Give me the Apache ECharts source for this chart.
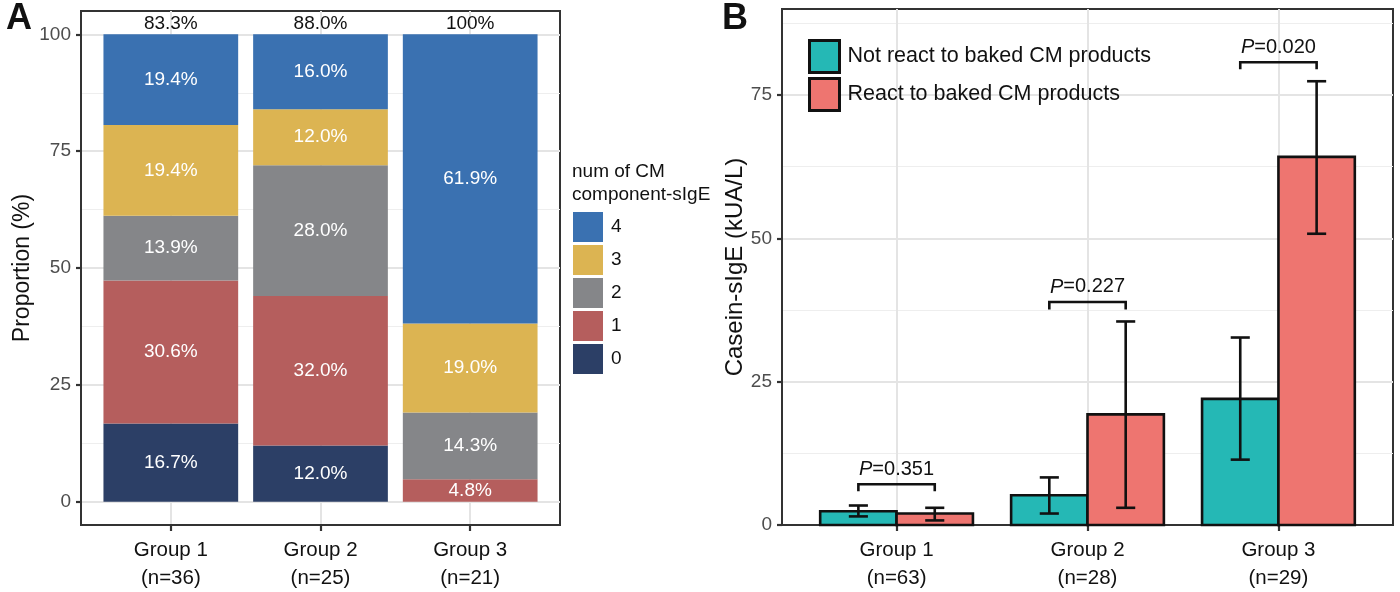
<!DOCTYPE html>
<html><head><meta charset="utf-8">
<script src="https://cdn.jsdelivr.net/npm/echarts@6/dist/echarts.min.js"></script>
<style>html,body{margin:0;padding:0;background:#fff}#c{width:1400px;height:592px}</style>
</head><body><div id="c"></div><script>
const FONT = '"Liberation Sans", Arial, Helvetica, sans-serif';

// ---------- Panel A data ----------
const groupsA = ['Group 1\n(n=36)', 'Group 2\n(n=25)', 'Group 3\n(n=21)'];
const levelsA = ['0', '1', '2', '3', '4'];
const pct0 = [16.7, 12.0, 0];
const pct1 = [30.6, 32.0, 4.8];
const pct2 = [13.9, 28.0, 14.3];
const pct3 = [19.4, 12.0, 19.0];
const pct4 = [19.4, 16.0, 61.9];
const topLabelsA = ['83.3%', '88.0%', '100%'];
const yTicksA = [0, 25, 50, 75, 100];
const yMinorA = [12.5, 37.5, 62.5, 87.5];
const colorsA = ['#2C3F66', '#B55E5D', '#858689', '#DCB452', '#3A71B1'];

// ---------- Panel B data ----------
const groupsB = ['Group 1\n(n=63)', 'Group 2\n(n=28)', 'Group 3\n(n=29)'];
const namesB = ['Not react to baked CM products', 'React to baked CM products'];
const notReactMean = [2.4, 5.2, 22.0];
const notReactLow = [1.5, 2.0, 11.4];
const notReactHigh = [3.4, 8.3, 32.7];
const reactMean = [2.0, 19.3, 64.2];
const reactLow = [0.8, 3.0, 50.8];
const reactHigh = [3.0, 35.5, 77.4];
const pValues = ['0.351', '0.227', '0.020'];
const bracketTop = [7.1, 38.9, 80.7];
const bracketLeg = [5.9, 37.6, 79.5];
const yTicksB = [0, 25, 50, 75];
const yMinorB = [12.5, 37.5, 62.5, 87.5];
const colorsB = ['#25B8B5', '#EE7570'];

const catPos = [1, 2, 3];
const GRIDC = '#e4e4e4', MINORC = '#eeeeee', BORDER = '#333333', INK = '#111111', TICKC = '#4d4d4d';

// ---------- Panel A series ----------
const pctA = [pct0, pct1, pct2, pct3, pct4];
function renderStackBar(params, api) {
  const x = api.value(0), y0 = api.value(1), y1 = api.value(2), v = api.value(3);
  if (!(v > 0)) return null;
  const tl = api.coord([x - 0.45, y1]);
  const br = api.coord([x + 0.45, y0]);
  return {
    type: 'rect',
    shape: { x: tl[0], y: tl[1], width: br[0] - tl[0], height: br[1] - tl[1] },
    style: { fill: api.visual('color') },
    textContent: { style: { text: v.toFixed(1) + '%', fill: '#ffffff', fontSize: 19, fontFamily: FONT } },
    textConfig: { position: 'inside' }
  };
}
const stackSeriesA = levelsA.map((lv, li) => ({
  type: 'custom', name: lv, xAxisIndex: 0, yAxisIndex: 0,
  itemStyle: { color: colorsA[li] },
  encode: { x: 0, y: [1, 2] },
  data: catPos.map((x, gi) => {
    let start = 0;
    for (let k = 0; k < li; k++) start += pctA[k][gi];
    return [x, start, start + pctA[li][gi], pctA[li][gi]];
  }),
  renderItem: renderStackBar, silent: true
}));
const topSeriesA = {
  type: 'custom', xAxisIndex: 0, yAxisIndex: 0, silent: true, z: 6,
  encode: { x: 0, y: 1 },
  data: catPos.map((x, gi) => [x, pctA.reduce((s, arr) => s + arr[gi], 0)]),
  renderItem: (params, api) => {
    const p = api.coord([api.value(0), api.value(1)]);
    return { type: 'text', style: { text: topLabelsA[params.dataIndex], x: p[0], y: p[1] - 1,
      align: 'center', verticalAlign: 'bottom', fill: INK, fontSize: 19, fontFamily: FONT } };
  }
};

// ---------- Panel B series ----------
function barB(mean, idx) {
  const off = idx === 0 ? -0.4 : 0;
  return {
    type: 'custom', name: namesB[idx], xAxisIndex: 1, yAxisIndex: 2, silent: true,
    itemStyle: { color: colorsB[idx] },
    encode: { x: 0, y: 1 },
    data: catPos.map((x, i) => [x, mean[i]]),
    renderItem: (params, api) => {
      const x = api.value(0), v = api.value(1);
      const tl = api.coord([x + off, v]);
      const br = api.coord([x + off + 0.4, 0]);
      return { type: 'rect',
        shape: { x: tl[0], y: tl[1], width: br[0] - tl[0], height: br[1] - tl[1] },
        style: { fill: api.visual('color'), stroke: '#111', lineWidth: 2.6 } };
    }
  };
}
function errB(low, high, idx) {
  const off = idx === 0 ? -0.2 : 0.2;
  return {
    type: 'custom', xAxisIndex: 1, yAxisIndex: 2, silent: true, z: 5,
    encode: { x: 0, y: [1, 2] },
    data: catPos.map((x, i) => [x, low[i], high[i]]),
    renderItem: (params, api) => {
      const x = api.value(0) + off, lo = api.value(1), hi = api.value(2);
      const a = api.coord([x, lo]), b = api.coord([x, hi]);
      const l1 = api.coord([x - 0.05, lo]), r1 = api.coord([x + 0.05, lo]);
      const l2 = api.coord([x - 0.05, hi]), r2 = api.coord([x + 0.05, hi]);
      const st = { stroke: '#111', lineWidth: 2.6 };
      return { type: 'group', children: [
        { type: 'line', shape: { x1: a[0], y1: a[1], x2: b[0], y2: b[1] }, style: st },
        { type: 'line', shape: { x1: l1[0], y1: l1[1], x2: r1[0], y2: r1[1] }, style: st },
        { type: 'line', shape: { x1: l2[0], y1: l2[1], x2: r2[0], y2: r2[1] }, style: st }
      ] };
    }
  };
}
const bracketSeries = {
  type: 'custom', xAxisIndex: 1, yAxisIndex: 2, silent: true, z: 5,
  encode: { x: 0, y: [1, 2] },
  data: catPos.map((x, i) => [x, bracketLeg[i], bracketTop[i]]),
  renderItem: (params, api) => {
    const x = api.value(0), leg = api.value(1), top = api.value(2);
    const pts = [api.coord([x - 0.2, leg]), api.coord([x - 0.2, top]),
                 api.coord([x + 0.2, top]), api.coord([x + 0.2, leg])];
    const c = api.coord([x, top]);
    return { type: 'group', children: [
      { type: 'polyline', shape: { points: pts }, style: { stroke: '#111', lineWidth: 2.6, fill: null } },
      { type: 'text', style: { text: '{i|P}=' + pValues[params.dataIndex], x: c[0], y: c[1] - 5,
          align: 'center', verticalAlign: 'bottom', fill: INK, fontSize: 20, fontFamily: FONT,
          rich: { i: { fontStyle: 'italic', fontSize: 20, fontFamily: FONT, fill: INK } } } }
    ] };
  }
};

// ---------- axes helpers ----------
function xAxisCfg(gridIndex, labels) {
  return {
    gridIndex, type: 'value', min: 0.4, max: 3.6,
    axisLine: { show: true, onZero: false, lineStyle: { color: BORDER, width: 2 } },
    axisTick: { show: true, customValues: catPos, length: 6, lineStyle: { color: BORDER, width: 2.2 } },
    axisLabel: { customValues: catPos, formatter: v => labels[Math.round(v) - 1],
                 color: INK, fontSize: 20.5, lineHeight: 28, margin: 11, fontFamily: FONT },
    splitLine: { show: true, lineStyle: { color: GRIDC, width: 2 } }
  };
}
function yAxisCfg(gridIndex, min, max, ticks, name, nameGap, nameSize) {
  return {
    gridIndex, type: 'value', min, max,
    name, nameLocation: 'middle', nameGap,
    nameTextStyle: { fontSize: nameSize, color: INK, fontFamily: FONT },
    axisLine: { show: true, onZero: false, lineStyle: { color: BORDER, width: 2 } },
    axisTick: { show: true, customValues: ticks, length: 5, lineStyle: { color: BORDER, width: 2.2 } },
    axisLabel: { customValues: ticks, color: TICKC, fontSize: 19, margin: 10, fontFamily: FONT },
    splitLine: { show: true, lineStyle: { color: GRIDC, width: 2 } }
  };
}
function yMinorCfg(gridIndex, min, max, ticks) {
  return {
    gridIndex, type: 'value', min, max, position: 'left',
    axisLine: { show: false, onZero: false },
    axisTick: { show: false, customValues: ticks },
    axisLabel: { show: false, customValues: ticks },
    splitLine: { show: true, lineStyle: { color: MINORC, width: 1.2 } }
  };
}

const option = {
  backgroundColor: '#ffffff',
  animation: false,
  textStyle: { fontFamily: FONT },
  title: [
    { text: 'A', left: 6, top: 1, padding: 0, textStyle: { fontSize: 36, fontWeight: 'bold', color: INK, fontFamily: FONT } },
    { text: 'B', left: 722, top: 1, padding: 0, textStyle: { fontSize: 36, fontWeight: 'bold', color: INK, fontFamily: FONT } },
    { text: 'num of CM\ncomponent-sIgE', left: 572, top: 160, padding: 0,
      textStyle: { fontSize: 19, lineHeight: 23, fontWeight: 'normal', color: INK, fontFamily: FONT } }
  ],
  legend: [
    { data: ['4', '3', '2', '1', '0'], orient: 'vertical', left: 573, top: 212, padding: 0,
      itemWidth: 30, itemHeight: 30, itemGap: 3, icon: 'rect', selectedMode: false,
      textStyle: { fontSize: 19, color: INK, fontFamily: FONT, padding: [0, 0, 0, 3] } },
    { data: namesB, orient: 'vertical', left: 808, top: 39, padding: 0,
      itemWidth: 30, itemHeight: 32, itemGap: 3, icon: 'rect', selectedMode: false,
      itemStyle: { borderColor: '#111', borderWidth: 3 },
      textStyle: { fontSize: 21.5, color: INK, fontFamily: FONT, padding: [0, 0, 0, 3] } }
  ],
  grid: [
    { left: 81, top: 11, width: 479, height: 517, show: true, borderColor: BORDER, borderWidth: 2, backgroundColor: 'transparent' },
    { left: 782, top: 9, width: 611, height: 518, show: true, borderColor: BORDER, borderWidth: 2, backgroundColor: 'transparent' }
  ],
  xAxis: [ xAxisCfg(0, groupsA), xAxisCfg(1, groupsB) ],
  yAxis: [
    yAxisCfg(0, -5, 105, yTicksA, 'Proportion (%)', 47, 23),
    yMinorCfg(0, -5, 105, yMinorA),
    yAxisCfg(1, 0, 90, yTicksB, 'Casein-sIgE (kUA/L)', 31, 24),
    yMinorCfg(1, 0, 90, yMinorB)
  ],
  series: [
    ...stackSeriesA,
    topSeriesA,
    barB(notReactMean, 0),
    barB(reactMean, 1),
    errB(notReactLow, notReactHigh, 0),
    errB(reactLow, reactHigh, 1),
    bracketSeries
  ]
};
const chart = echarts.init(document.getElementById('c'), null, { renderer: 'canvas' });
chart.setOption(option);
</script></body></html>
